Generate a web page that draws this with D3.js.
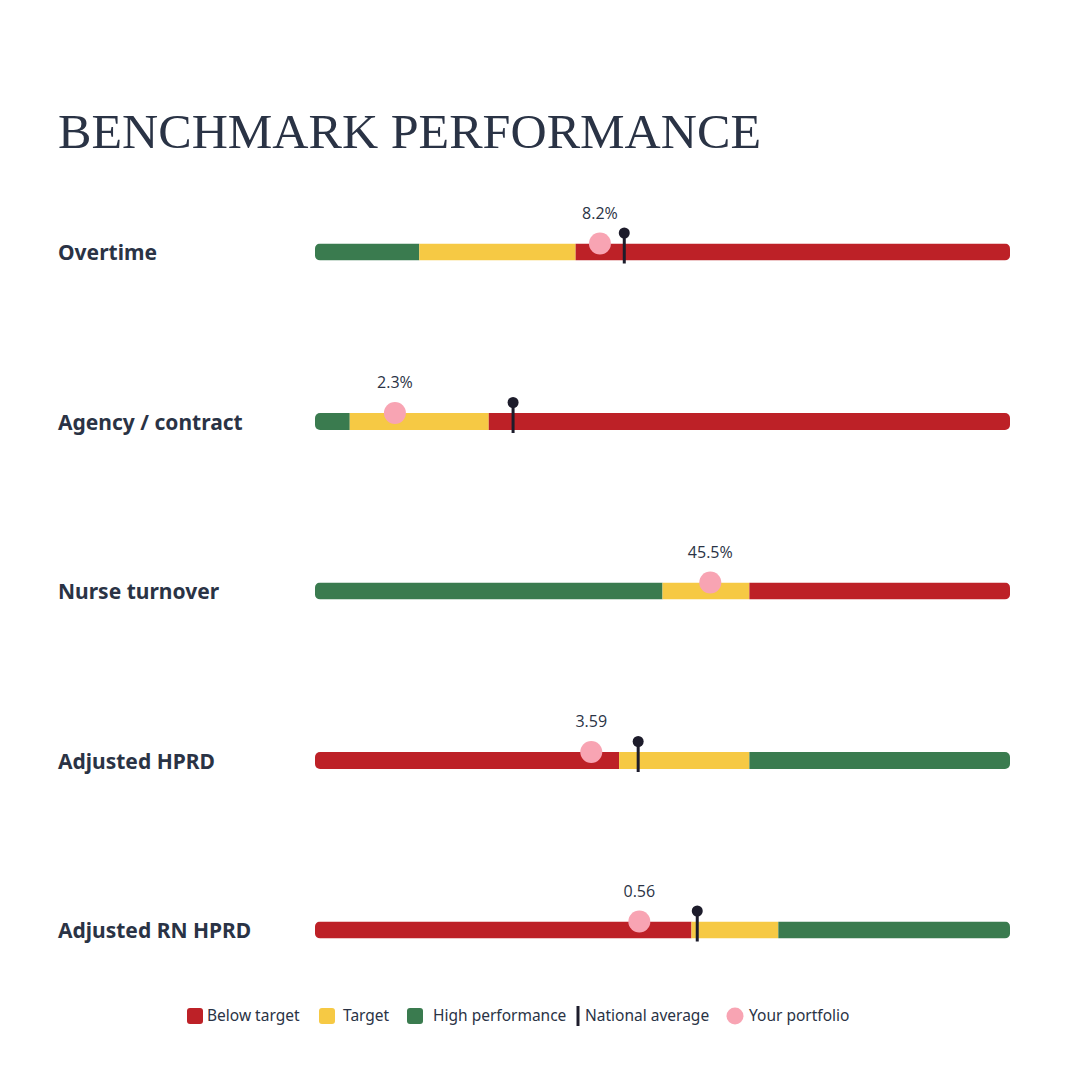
<!DOCTYPE html>
<html>
<head>
<meta charset="utf-8">
<script src="https://cdn.jsdelivr.net/npm/d3@7"></script>
<style>
  html, body { margin: 0; padding: 0; background: #fff; }
  svg { display: block; }
</style>
</head>
<body>
<div id="chart"></div>
<script>
// metrics, one bar per row
var metrics = ["Overtime", "Agency / contract", "Nurse turnover", "Adjusted HPRD", "Adjusted RN HPRD"];
var domainMin = [0, 0, 0, 2, 0];
var domainMax = [20, 20, 80, 6, 1.2];
// band edges (first break, second break) in data units
var bandBreaks = [[3, 7.5], [1, 5], [40, 50], [3.75, 4.5], [0.65, 0.8]];
var lowerIsBetter = [true, true, true, false, false];
var portfolio = [8.2, 2.3, 45.5, 3.59, 0.56];
var portfolioLabels = ["8.2%", "2.3%", "45.5%", "3.59", "0.56"];
var nationalAvg = [8.9, 5.7, null, 3.86, 0.66];

var legendLabels = ["Below target", "Target", "High performance", "National average", "Your portfolio"];

var colors = {
    below: "#bd2127",
    target: "#f6c944",
    high: "#3a7b4f",
    national: "#1d1c2b",
    portfolio: "#f8a4b3",
    text: "#2a3345"
};

var width = 1080, height = 1080;
var barLeft = 315, barRight = 1010, barH = 17;

var svg = d3.select("#chart").append("svg")
    .attr("width", width)
    .attr("height", height);

svg.append("text")
    .attr("x", 58)
    .attr("y", 148)
    .attr("textLength", 703)
    .attr("lengthAdjust", "spacingAndGlyphs")
    .style("font-family", "'Liberation Serif', serif")
    .style("font-size", "49px")
    .style("fill", colors.text)
    .text("BENCHMARK PERFORMANCE");

var rowY = d3.scalePoint()
    .domain(metrics)
    .range([252, 930]);

var defs = svg.append("defs");

metrics.forEach(function (m, i) {
    var x = d3.scaleLinear()
        .domain([domainMin[i], domainMax[i]])
        .range([barLeft, barRight]);
    var cy = rowY(m);
    var top = cy - barH / 2;

    // band segments, ordered from left to right
    var edges = [domainMin[i], bandBreaks[i][0], bandBreaks[i][1], domainMax[i]];
    var fills = lowerIsBetter[i]
        ? [colors.high, colors.target, colors.below]
        : [colors.below, colors.target, colors.high];
    var segs = fills.map(function (f, k) {
        return {from: edges[k], to: edges[k + 1], fill: f};
    });

    defs.append("clipPath")
        .attr("id", "clip" + i)
        .append("rect")
        .attr("x", x.range()[0])
        .attr("y", top)
        .attr("width", x.range()[1] - x.range()[0])
        .attr("height", barH)
        .attr("rx", 5);

    var row = svg.append("g").attr("class", "row");

    row.append("text")
        .attr("x", 58)
        .attr("y", cy + 1)
        .attr("dy", "0.35em")
        .style("font-family", "'Noto Sans', sans-serif")
        .style("font-weight", "bold")
        .style("font-size", "21px")
        .style("fill", colors.text)
        .text(m);

    row.append("g")
        .attr("clip-path", "url(#clip" + i + ")")
        .selectAll("rect")
        .data(segs)
        .enter().append("rect")
        .attr("x", function (d) { return x(d.from); })
        .attr("y", top)
        .attr("width", function (d) { return x(d.to) - x(d.from); })
        .attr("height", barH)
        .style("fill", function (d) { return d.fill; });

    // your portfolio dot sits on the bar's top edge
    row.append("circle")
        .attr("cx", x(portfolio[i]))
        .attr("cy", top)
        .attr("r", 11)
        .style("fill", colors.portfolio);

    row.append("text")
        .attr("x", x(portfolio[i]))
        .attr("y", top - 25)
        .attr("text-anchor", "middle")
        .style("font-family", "'Open Sans', sans-serif")
        .style("font-size", "16px")
        .style("fill", colors.text)
        .text(portfolioLabels[i]);

    if (nationalAvg[i] != null) {
        var nx = x(nationalAvg[i]);
        row.append("line")
            .attr("x1", nx).attr("x2", nx)
            .attr("y1", cy - 19)
            .attr("y2", cy + barH / 2 + 3)
            .style("stroke", colors.national)
            .style("stroke-width", 3);
        row.append("circle")
            .attr("cx", nx)
            .attr("cy", cy - 19)
            .attr("r", 5.5)
            .style("fill", colors.national);
    }
});

// legend
var legY = 1016;
var legend = svg.append("g")
    .style("font-family", "'Noto Sans', sans-serif")
    .style("font-size", "15.5px")
    .style("fill", colors.text);

var swatchX = [187, 319, 407];
var swatchFill = [colors.below, colors.target, colors.high];
var labelX = [207, 343, 433, 585, 749];

swatchX.forEach(function (sx, k) {
    legend.append("rect")
        .attr("x", sx)
        .attr("y", legY - 8)
        .attr("width", 16)
        .attr("height", 16)
        .attr("rx", 3)
        .style("fill", swatchFill[k]);
});

legend.append("line")
    .attr("x1", 578).attr("x2", 578)
    .attr("y1", legY - 10).attr("y2", legY + 10)
    .style("stroke", colors.national)
    .style("stroke-width", 3);

legend.append("circle")
    .attr("cx", 735)
    .attr("cy", legY)
    .attr("r", 8.5)
    .style("fill", colors.portfolio);

legendLabels.forEach(function (t, k) {
    legend.append("text")
        .attr("x", labelX[k])
        .attr("y", legY)
        .attr("dy", "0.35em")
        .text(t);
});
</script>
</body>
</html>
